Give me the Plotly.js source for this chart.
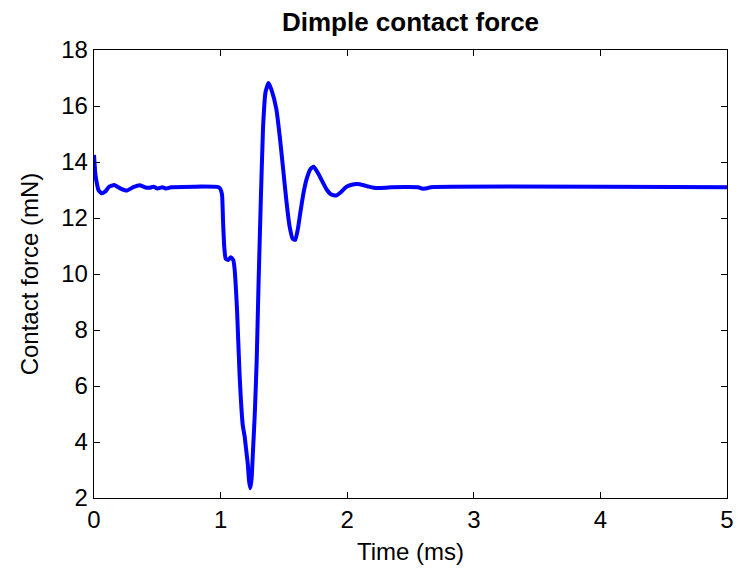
<!DOCTYPE html>
<html>
<head>
<meta charset="utf-8">
<script src="https://cdn.plot.ly/plotly-3.0.1.min.js"></script>
<style>html,body{margin:0;padding:0;background:#fff;}#chart{width:739px;height:580px;}</style>
</head>
<body>
<div id="chart"></div>
<script>
const timeMs = [0.000,0.010,0.020,0.035,0.060,0.090,0.120,0.160,0.210,0.260,0.310,0.360,0.400,0.440,0.470,0.500,0.540,0.570,0.610,0.985,1.002,1.012,1.020,1.030,1.040,1.060,1.080,1.100,1.110,1.130,1.150,1.175,1.190,1.200,1.215,1.225,1.235,1.245,1.255,1.270,1.285,1.300,1.315,1.335,1.355,1.378,1.400,1.440,1.470,1.495,1.520,1.545,1.570,1.590,1.610,1.630,1.655,1.680,1.710,1.735,1.770,1.810,1.840,1.870,1.910,1.950,1.990,2.030,2.080,2.130,2.170,2.210,2.300,2.350,2.560,2.590,2.630,2.660,5.000];
const forceMN = [14.25,13.6,13.3,13.0,12.88,12.95,13.12,13.18,13.05,12.98,13.1,13.17,13.1,13.08,13.12,13.05,13.1,13.05,13.1,13.1,13.0,12.8,11.8,10.9,10.55,10.5,10.6,10.5,10.2,8.7,6.4,4.6,4.2,3.8,3.2,2.6,2.35,2.7,3.6,5.0,6.9,9.7,12.2,15.2,16.5,16.82,16.6,15.9,14.8,13.7,12.6,11.7,11.25,11.22,11.6,12.2,12.9,13.4,13.75,13.83,13.6,13.25,13.0,12.85,12.8,12.92,13.1,13.18,13.21,13.17,13.12,13.08,13.08,13.1,13.1,13.05,13.06,13.1,13.1];
const xTicks = [0,1,2,3,4,5];
const yTicks = [2,4,6,8,10,12,14,16,18];
const titleText = 'Dimple contact force';
const xLabel = 'Time (ms)';
const yLabel = 'Contact force (mN)';

const font = 'Liberation Sans, Arial, sans-serif';
const axisCommon = {
  showline: true, linecolor: '#000', linewidth: 1.3, mirror: 'ticks',
  ticks: 'inside', ticklen: 6, tickwidth: 1, tickcolor: '#000',
  showgrid: false, zeroline: false,
  tickfont: {family: font, size: 24, color: '#000'}
};
Plotly.newPlot('chart', [{
  x: timeMs, y: forceMN, type: 'scatter', mode: 'lines',
  line: {color: '#0000ff', width: 4, shape: 'spline', smoothing: 0.4}
}], {
  width: 739, height: 580,
  margin: {l: 94, r: 12, t: 50, b: 82},
  paper_bgcolor: '#fff', plot_bgcolor: '#fff',
  showlegend: false,
  title: {text: '<b>' + titleText + '</b>', font: {family: font, size: 26, color: '#000'}, xref: 'paper', x: 0.5, xanchor: 'center', yref: 'container', y: 0.962, yanchor: 'middle'},
  xaxis: Object.assign({}, axisCommon, {range: [0, 5], tickvals: xTicks, ticktext: xTicks.map(String),
    title: {text: xLabel, font: {family: font, size: 24, color: '#000'}, standoff: 11}}),
  yaxis: Object.assign({}, axisCommon, {range: [2, 18], tickvals: yTicks, ticktext: yTicks.map(String),
    title: {text: yLabel, font: {family: font, size: 24, color: '#000'}, standoff: 15}})
}, {displayModeBar: false, staticPlot: true});
</script>
</body>
</html>
